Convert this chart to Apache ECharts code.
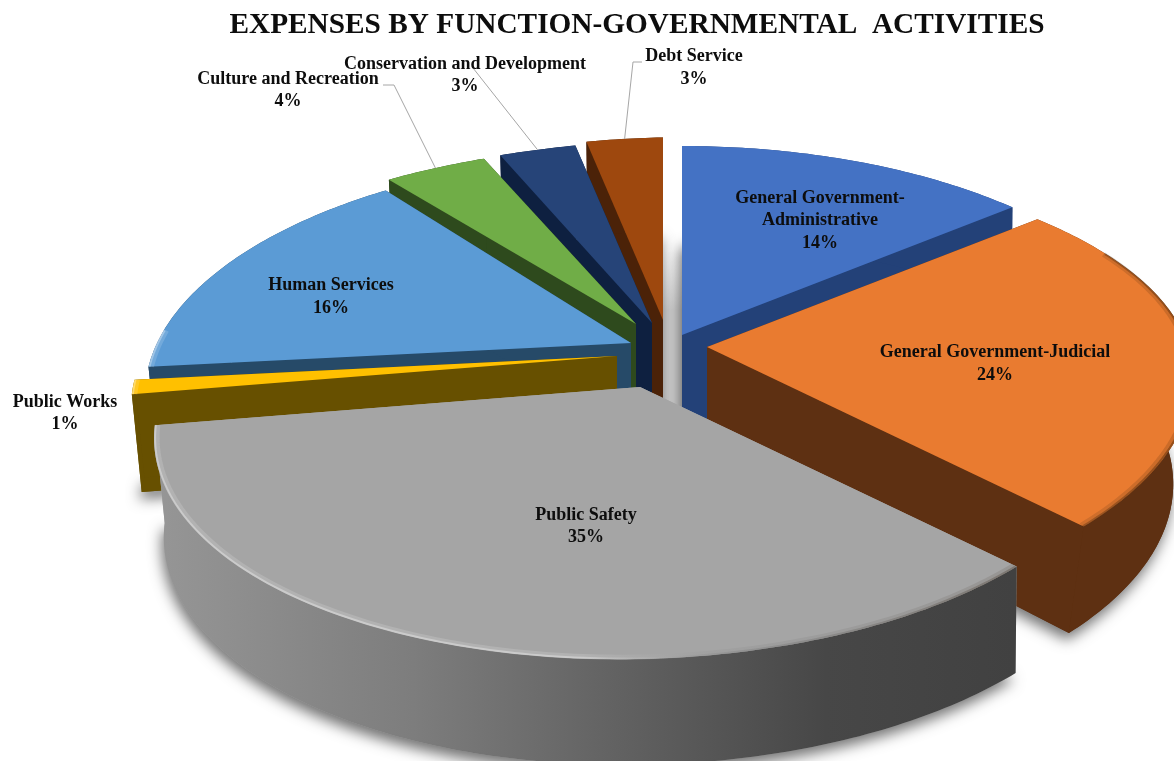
<!DOCTYPE html>
<html>
<head>
<meta charset="utf-8">
<title>Expenses by Function</title>
<style>html,body{margin:0;padding:0;background:#fff}#chart{width:1174px;height:761px}</style>
<script src="https://cdn.jsdelivr.net/npm/echarts@6/dist/echarts.min.js"></script>
</head>
<body>
<div id="chart"></div>
<script>
// Expense categories, clockwise from twelve o'clock
const categories = ['General Government-\nAdministrative', 'General Government-Judicial', 'Public Safety', 'Public Works', 'Human Services', 'Culture and Recreation', 'Conservation and Development', 'Debt Service'];
const shares = [14, 24, 35, 1, 16, 4, 3, 3];

// Face and side colours per slice
const faceColors = ['#4472c4', '#e97b30', '#a5a5a5', '#ffc000', '#5b9bd5', '#70ad47', '#264478', '#9e480e'];
const sideColors = ['#234178', '#5e3012', '#a5a5a5', '#675000', '#264a68', '#2e4a1d', '#0e2040', '#4b2208'];

// Pie projection settings
const centre = [660, 350];
const radiusX = 478, radiusY = 223, perspective = 0.18, skew = 0.02;
const explode = [[22, -15], [47, -3], [-20, 37], [-43, 6], [-29, -7], [-24, -26], [-8, -27], [3, -30]];
const flatten = [1, 1, 1, 1, 1, 0.94, 0.955, 0.96];
const lowerShift = [0, -20, 0, 0, 0, 0, 0, 0];
// Rim shading begins where the slice's depth coordinate passes this value
const rimStart = [-0.3, -0.45, -0.3, -0.3, -0.1, -0.3, -0.3, -0.3];

// Slices are painted back to front so nearer ones cover farther ones
const paintOrder = [7, 6, 5, 0, 4, 3, 1, 2];

// Label anchors and leader lines
const labelAnchors = [[820, 220.5], [995, 364], [586, 526.5], [65, 413.5], [331, 297], [288, 90.5], [465, 75.5], [694, 68]];
const leaderElbows = { 5: [[383, 85], [394, 85]], 6: [[473, 68]], 7: [[642, 62], [633, 62]] };

const totalShare = shares.reduce((a, b) => a + b, 0);
const startAngles = [];
shares.reduce((sum, s, i) => { startAngles[i] = sum / totalShare * Math.PI * 2; return sum + s; }, 0);

function project(i, angle, r, lower) {
  const u = r * Math.sin(angle);
  const v = -r * Math.cos(angle) * flatten[i];
  const d = 1 - perspective * v;
  const tilt = u < 0 ? skew : skew * Math.min(1, Math.max(0, 1 + 1.5 * v));
  let x = radiusX * u / d;
  let y = radiusY * v / d - tilt * radiusX * u / d;
  if (lower) {
    y += 100 + 3 * u + 6 * v;
    x += 5 * u * u - 5 * u + lowerShift[i] * u;
  }
  return [centre[0] + explode[i][0] + x, centre[1] + explode[i][1] + y];
}

function arc(i, a0, a1, r, lower) {
  const n = Math.max(2, Math.ceil((a1 - a0) / 0.015));
  const pts = [];
  for (let k = 0; k <= n; k++) pts.push(project(i, a0 + (a1 - a0) * k / n, r, lower));
  return pts;
}

function wallFill(i) {
  if (i !== 2) return sideColors[i];
  return new echarts.graphic.LinearGradient(155, 0, 1015, 0, [
    { offset: 0, color: '#969696' }, { offset: 0.3, color: '#7d7d7d' },
    { offset: 0.5, color: '#666666' }, { offset: 0.78, color: '#474747' },
    { offset: 1, color: '#414141' }
  ], true);
}

// Rim shading: a highlight on the left fading into a shade on the right
function rimStroke(scale) {
  return new echarts.graphic.LinearGradient(150, 0, 1174, 0, [
    { offset: 0, color: 'rgba(255,255,255,' + 0.5 * scale + ')' },
    { offset: 0.42, color: 'rgba(255,255,255,' + 0.5 * scale + ')' },
    { offset: 0.6, color: 'rgba(70,70,70,' + 0.25 * scale + ')' },
    { offset: 1, color: 'rgba(50,25,0,' + 0.55 * scale + ')' }
  ], true);
}

function renderSlice(params, api) {
  const i = api.value(0);
  const order = params.dataIndex * 10 + 10;
  const a0 = startAngles[i];
  const a1 = a0 + shares[i] / totalShare * Math.PI * 2;
  const topArc = arc(i, a0, a1, 1, false);
  const lowArc = arc(i, a0, a1, 1, true);
  const apexTop = project(i, a0, 0, false);
  const apexLow = project(i, a0, 0, true);
  const children = [];
  const poly = (points, fill, z, extra) => children.push({
    type: 'polygon', z2: z, shape: { points }, style: Object.assign({ fill }, extra || {})
  });

  // Shaded floor seen through the gap between the last and first slices
  if (i === 0) {
    const last = shares.length - 1;
    poly([project(last, Math.PI * 2, 0.4, false), project(0, 0, 0.4, false), apexLow, project(last, Math.PI * 2, 0, true)],
      new echarts.graphic.LinearGradient(0, 250, 0, 310, [
        { offset: 0, color: '#ffffff' }, { offset: 1, color: '#d2d2d2' }
      ], true), 1);
  }
  // Floor shadow under the slice
  poly([apexLow].concat(lowArc), sideColors[i], 2 + params.dataIndex, {
    shadowBlur: 14, shadowColor: 'rgba(0,0,0,0.55)', shadowOffsetX: -2, shadowOffsetY: 7
  });
  // Cut faces and outer wall
  poly([apexTop, topArc[0], lowArc[0], apexLow], sideColors[i], order);
  poly([apexTop, topArc[topArc.length - 1], lowArc[lowArc.length - 1], apexLow], sideColors[i], order);
  poly(topArc.concat(lowArc.slice().reverse()), wallFill(i), order + 1);
  // Top face
  poly([apexTop].concat(topArc), faceColors[i], order + 2);
  // Soft bevel along the near part of the rim
  [[0.994, 5, 0.3], [0.998, 2, 0.65]].forEach(([r, width, alpha], n) => {
    const rim = arc(i, a0, a1, r, false).filter((p, k, all) => {
      const a = a0 + (a1 - a0) * k / (all.length - 1);
      return -Math.cos(a) > rimStart[i];
    });
    if (rim.length > 1) {
      children.push({
        type: 'polyline', z2: order + 3 + n, shape: { points: rim },
        style: { fill: 'none', lineWidth: width, stroke: rimStroke(alpha) }
      });
    }
  });
  // Leader line from the rim to the outside label
  if (leaderElbows[i]) {
    const tip = project(i, (a0 + a1) / 2, 1.0, false);
    children.push({
      type: 'polyline', z2: 900, shape: { points: leaderElbows[i].concat([tip]) },
      style: { fill: 'none', stroke: '#a6a6a6', lineWidth: 1 }
    });
  }
  // Category name and share
  children.push({
    type: 'text', z2: 1000, x: labelAnchors[i][0], y: labelAnchors[i][1],
    style: {
      text: categories[i] + '\n' + shares[i] + '%',
      fill: '#0d0d0d', align: 'center', verticalAlign: 'middle',
      font: 'bold 18px "Liberation Serif"', lineHeight: 22.5
    }
  });
  return { type: 'group', children };
}

const chart = echarts.init(document.getElementById('chart'), null, { renderer: 'canvas' });
chart.setOption({
  animation: false,
  backgroundColor: '#ffffff',
  title: {
    text: 'EXPENSES BY FUNCTION-GOVERNMENTAL  ACTIVITIES',
    left: 632, top: 6, textAlign: 'center',
    textStyle: { fontFamily: 'Liberation Serif', fontWeight: 'bold', fontSize: 29.3, color: '#0d0d0d' }
  },
  series: [{
    type: 'custom',
    coordinateSystem: 'none',
    silent: true,
    clip: false,
    renderItem: renderSlice,
    data: paintOrder.map(i => [i, shares[i]])
  }]
});
</script>
</body>
</html>
